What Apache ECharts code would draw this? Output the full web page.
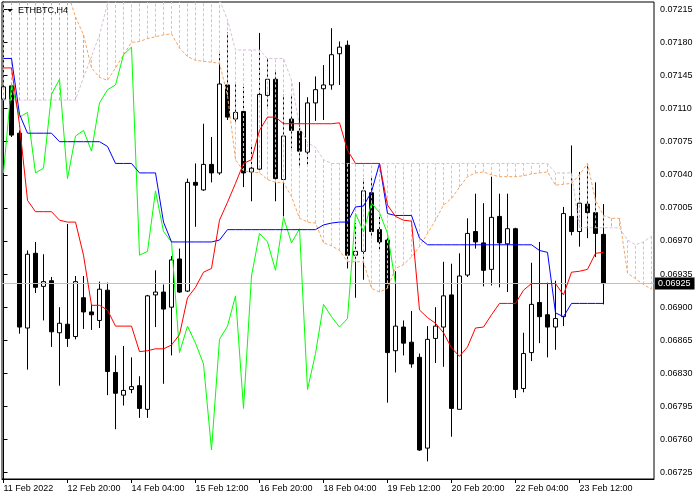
<!DOCTYPE html>
<html><head><meta charset="utf-8">
<script src="https://cdn.jsdelivr.net/npm/echarts@6/dist/echarts.min.js"></script>
<style>html,body{margin:0;padding:0;background:#fff}#c{width:700px;height:500px}</style>
</head><body><div id="c"></div>
<script>
// ---- data (ETHBTC, H4) ----
const tickIndex = [0, 8, 16, 24, 32, 40, 48, 56, 64, 72];
const tickLabels = ['11 Feb 2022','12 Feb 20:00','14 Feb 04:00','15 Feb 12:00','16 Feb 20:00','18 Feb 04:00','19 Feb 12:00','20 Feb 20:00','22 Feb 04:00','23 Feb 12:00'];
const priceTicks = [0.06725,0.06760,0.06795,0.06830,0.06865,0.06900,0.06935,0.06970,0.07005,0.07040,0.07075,0.07110,0.07145,0.07180,0.07215];
const lastPrice = 0.06925;
const chikouShift = 26;

const open = [0.07120,0.07134,0.07084,0.06878,0.06957,0.06922,0.06928,0.06873,0.06882,0.06869,
 0.06910,0.06895,0.06886,0.06918,0.06831,0.06807,0.06813,0.06817,0.06792,0.06913,
 0.06916,0.06900,0.06951,0.06917,0.07032,0.07024,0.07051,0.07042,0.07135,0.07099,
 0.07107,0.07043,0.07046,0.07124,0.07141,0.07035,0.07099,0.07086,0.07064,0.07116,
 0.07131,0.07135,0.07168,0.07177,0.06955,0.06959,0.07021,0.06982,0.06971,0.06854,
 0.06879,0.06863,0.06847,0.06751,0.06867,0.06879,0.06913,0.06792,0.06934,0.06980,
 0.06968,0.06940,0.06996,0.06967,0.06983,0.06814,0.06852,0.06905,0.06892,0.06879,
 0.06890,0.06996,0.06980,0.07009,0.07000,0.06977];
const close = [0.07133,0.07082,0.06879,0.06956,0.06921,0.06927,0.06874,0.06883,0.06867,0.06927,
 0.06895,0.06892,0.06919,0.06832,0.06809,0.06812,0.06816,0.06793,0.06912,0.06916,
 0.06898,0.06950,0.06916,0.07032,0.07029,0.07051,0.07042,0.07136,0.07101,0.07106,
 0.07042,0.07047,0.07125,0.07141,0.07036,0.07081,0.07087,0.07065,0.07116,0.07130,
 0.07135,0.07167,0.07175,0.06955,0.06959,0.07023,0.06980,0.06969,0.06852,0.06880,
 0.06862,0.06840,0.06749,0.06866,0.06880,0.06912,0.06793,0.06933,0.06978,0.06969,
 0.06939,0.06995,0.06968,0.06983,0.06813,0.06851,0.06903,0.06890,0.06879,0.06888,
 0.06999,0.06980,0.07010,0.07000,0.06978,0.06925];
const high = [0.07140,0.07137,0.07087,0.06960,0.06969,0.06956,0.06932,0.06900,0.06988,0.06933,
 0.06933,0.06903,0.06927,0.06926,0.06849,0.06859,0.06847,0.06827,0.06913,0.06939,
 0.06924,0.06954,0.06962,0.07036,0.07052,0.07094,0.07080,0.07168,0.07191,0.07138,
 0.07133,0.07071,0.07190,0.07163,0.07151,0.07125,0.07124,0.07138,0.07122,0.07144,
 0.07156,0.07195,0.07181,0.07182,0.06989,0.07036,0.07038,0.06997,0.06976,0.06938,
 0.06886,0.06896,0.06851,0.06880,0.06900,0.06948,0.06946,0.06957,0.06994,0.07020,
 0.07010,0.07038,0.07020,0.07020,0.06984,0.06873,0.06947,0.06969,0.06926,0.06928,
 0.07006,0.07071,0.07043,0.07052,0.07032,0.07009];
const low = [0.07110,0.07080,0.06872,0.06834,0.06915,0.06886,0.06858,0.06817,0.06858,0.06866,
 0.06877,0.06876,0.06878,0.06807,0.06771,0.06796,0.06809,0.06783,0.06783,0.06879,
 0.06819,0.06849,0.06915,0.06916,0.06985,0.07023,0.07032,0.07040,0.07098,0.07096,
 0.07027,0.07012,0.07045,0.07112,0.07012,0.06996,0.07068,0.07049,0.07049,0.07097,
 0.07098,0.07130,0.07135,0.06941,0.06910,0.06929,0.06973,0.06960,0.06799,0.06831,
 0.06849,0.06836,0.06748,0.06737,0.06841,0.06837,0.06763,0.06792,0.06932,0.06962,
 0.06922,0.06923,0.06921,0.06916,0.06804,0.06810,0.06843,0.06862,0.06847,0.06855,
 0.06880,0.06976,0.06964,0.06973,0.06953,0.06903];

const tenkan = [0.07153,0.07153,0.07093,0.07013,0.07001,0.07001,0.07001,0.06992,0.06990,0.06990,
 0.06955,0.06902,0.06902,0.06897,0.06880,0.06880,0.06880,0.06853,0.06854,0.06856,
 0.06856,0.06860,0.06871,0.06910,0.06921,0.06937,0.06941,0.06992,0.07011,0.07031,
 0.07052,0.07056,0.07087,0.07101,0.07101,0.07094,0.07094,0.07094,0.07094,0.07094,
 0.07094,0.07094,0.07095,0.07066,0.07052,0.07052,0.07052,0.07052,0.07008,0.06996,
 0.06992,0.06991,0.06897,0.06889,0.06883,0.06873,0.06857,0.06848,0.06858,0.06878,
 0.06879,0.06892,0.06904,0.06904,0.06904,0.06918,0.06925,0.06925,0.06925,0.06925,
 0.06913,0.06937,0.06938,0.06940,0.06957,0.06958];
const kijun = [0.07163,0.07163,0.07104,0.07084,0.07084,0.07084,0.07084,0.07075,0.07075,0.07075,
 0.07075,0.07075,0.07075,0.07070,0.07052,0.07052,0.07052,0.07042,0.07042,0.07042,
 0.06990,0.06969,0.06969,0.06969,0.06969,0.06969,0.06969,0.06971,0.06982,0.06982,
 0.06982,0.06982,0.06982,0.06982,0.06982,0.06982,0.06982,0.06982,0.06982,0.06982,
 0.06987,0.06989,0.06990,0.06990,0.07006,0.07007,0.07022,0.07052,0.06999,0.06997,
 0.06997,0.06997,0.06973,0.06966,0.06966,0.06966,0.06966,0.06966,0.06966,0.06966,
 0.06966,0.06966,0.06966,0.06966,0.06966,0.06966,0.06966,0.06960,0.06958,0.06894,
 0.06890,0.06904,0.06904,0.06904,0.06904,0.06904];
const spanA = [0.07233,0.07233,0.07233,0.07233,0.07233,0.07233,0.07233,0.07233,0.07233,0.07207,
 0.07188,0.07153,0.07143,0.07140,0.07153,0.07167,0.07180,0.07181,0.07184,0.07186,
 0.07188,0.07189,0.07174,0.07165,0.07161,0.07160,0.07159,0.07158,0.07124,0.07056,
 0.07044,0.07043,0.07042,0.07035,0.07032,0.07032,0.07017,0.06994,0.06990,0.06989,
 0.06968,0.06965,0.06960,0.06948,0.06948,0.06948,0.06920,0.06916,0.06920,0.06941,
 0.06945,0.06953,0.06964,0.06978,0.06992,0.07008,0.07015,0.07027,0.07038,0.07042,
 0.07043,0.07040,0.07038,0.07038,0.07038,0.07039,0.07041,0.07042,0.07043,0.07029,
 0.07030,0.07031,0.07040,0.07052,0.07013,0.06997,0.06994,0.06994,0.06936,0.06930,
 0.06924,0.06919];
const spanB = [0.07119,0.07119,0.07119,0.07119,0.07119,0.07119,0.07119,0.07119,0.07119,0.07119,
 0.07143,0.07165,0.07188,0.07221,0.07233,0.07233,0.07233,0.07233,0.07233,0.07233,
 0.07233,0.07233,0.07233,0.07233,0.07233,0.07233,0.07233,0.07225,0.07204,0.07172,
 0.07172,0.07172,0.07172,0.07163,0.07163,0.07163,0.07140,0.07091,0.07074,0.07069,
 0.07056,0.07052,0.07052,0.07052,0.07052,0.07052,0.07052,0.07052,0.07052,0.07052,
 0.07052,0.07052,0.07052,0.07052,0.07052,0.07052,0.07052,0.07052,0.07052,0.07052,
 0.07052,0.07052,0.07052,0.07052,0.07052,0.07052,0.07052,0.07052,0.07052,0.07042,
 0.07042,0.07042,0.06984,0.06984,0.06984,0.06984,0.06984,0.06984,0.06971,0.06966,
 0.06969,0.06975];

// ---- build ----
const candles = open.map((o, i) => [i, o, close[i], low[i], high[i]]);
const pair = arr => arr.map((v, i) => [i, v]);
const chikou = close.slice(chikouShift).map((v, i) => [i, v]);
const cloud = spanA.map((a, i) => [i, a, spanB[i]]);

const FONT = 'Liberation Sans, Arial, sans-serif';
const chart = echarts.init(document.getElementById('c'), null, {renderer: 'canvas'});
chart.setOption({
  animation: false,
  backgroundColor: '#fff',
  grid: {left: 2, top: 2, width: 652, height: 477, show: true, borderColor: '#000', borderWidth: 1, backgroundColor: '#fff'},
  xAxis: {
    type: 'value', min: -0.1875, max: 81.3125,
    axisLine: {show: true, lineStyle: {color: '#000', width: 1}},
    axisTick: {show: true, customValues: tickIndex, length: 4, lineStyle: {color: '#000'}},
    axisLabel: {customValues: tickIndex, formatter: v => tickLabels[tickIndex.indexOf(v)] || '',
      align: 'left', color: '#000', fontSize: 9, fontFamily: FONT, margin: 5},
    splitLine: {show: false}
  },
  yAxis: {
    type: 'value', position: 'right', min: 0.0671834, max: 0.0722272,
    axisLine: {show: true, lineStyle: {color: '#000', width: 1}},
    axisTick: {show: true, customValues: priceTicks, length: 4, lineStyle: {color: '#000'}},
    axisLabel: {customValues: priceTicks, formatter: v => v.toFixed(5), color: '#000', fontSize: 9, fontFamily: FONT, margin: 6},
    splitLine: {show: false}
  },
  graphic: [
    {type: 'polygon', shape: {points: [[7, 9], [13, 9], [10, 12]]}, style: {fill: '#000'}, z: 100},
    {type: 'text', x: 18, y: 6, style: {text: 'ETHBTC,H4', fill: '#000', font: '9px ' + FONT}, z: 100}
  ],
  series: [
    {
      type: 'line', data: [[0, lastPrice]], showSymbol: false, symbol: 'none', z: 1,
      lineStyle: {opacity: 0},
      markLine: {
        silent: true, symbol: ['none', 'none'], animation: false, precision: 5,
        lineStyle: {color: '#c0c0c0', type: 'solid', width: 1},
        label: {show: true, position: 'end', distance: 1, formatter: lastPrice.toFixed(5),
          color: '#fff', backgroundColor: '#000', fontSize: 9, fontFamily: FONT, padding: [2, 4, 1, 3]},
        data: [{yAxis: lastPrice}]
      }
    },
    {
      type: 'candlestick', data: candles, encode: {x: 0, y: [1, 2, 3, 4]},
      barWidth: 4, z: 2,
      itemStyle: {color: '#fff', color0: '#000', borderColor: '#000', borderColor0: '#000', borderWidth: 1}
    },
    {
      type: 'custom', data: cloud, clip: true, silent: true, z: 3,
      renderItem: (params, api) => {
        const k = api.value(0), a = api.value(1), b = api.value(2);
        const p1 = api.coord([k, a]), p2 = api.coord([k, b]);
        const x = Math.round(p1[0] - 0.5) + 0.5;
        return {type: 'line', shape: {x1: x, y1: p1[1], x2: x, y2: p2[1]},
          style: {stroke: a >= b ? '#f4a460' : '#d8bfd8', lineWidth: 1, lineDash: [3, 2]}};
      }
    },
    {type: 'line', data: pair(spanA), showSymbol: false, z: 4, lineStyle: {color: '#f4a460', width: 1, type: [3, 2]}},
    {type: 'line', data: pair(spanB), showSymbol: false, z: 4, lineStyle: {color: '#d8bfd8', width: 1, type: [3, 2]}},
    {type: 'line', data: chikou, showSymbol: false, z: 5, lineStyle: {color: '#00ff00', width: 1}},
    {type: 'line', data: pair(kijun), showSymbol: false, z: 5, lineStyle: {color: '#0000ff', width: 1}},
    {type: 'line', data: pair(tenkan), showSymbol: false, z: 5, lineStyle: {color: '#ff0000', width: 1}}
  ]
});
</script></body></html>
